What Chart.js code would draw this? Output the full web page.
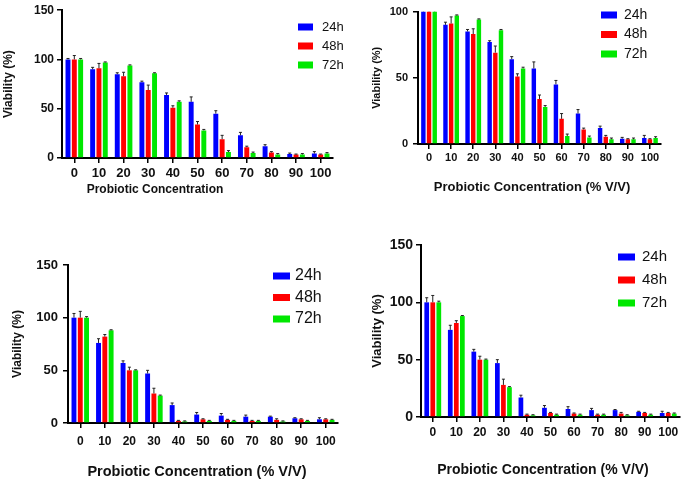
<!DOCTYPE html>
<html>
<head>
<meta charset="utf-8">
<script src="https://cdn.jsdelivr.net/npm/chart.js@4.4.1/dist/chart.umd.min.js"></script>
<style>
  html, body { margin: 0; padding: 0; background: #fff; }
  #page { position: relative; width: 685px; height: 483px; overflow: hidden; }
  .panel { position: absolute; }
</style>
</head>
<body>
<div id="page"></div>
<script>
const categories = ['0', '10', '20', '30', '40', '50', '60', '70', '80', '90', '100'];
const seriesLabels = ['24h', '48h', '72h'];
const seriesColors = ['#0000ff', '#ff0000', '#00e800'];

// top row (same data in both panels)
const top24h = [100, 90, 85, 77, 64, 57, 45, 23, 12, 4, 4.5];
const top48h = [100, 91, 83, 69, 51, 34, 19, 11, 5.5, 3.5, 3.5];
const top72h = [100, 97, 94, 86, 57, 28, 6, 5, 3.5, 3.5, 4.5];
const top24hErr = [1, 2, 1.5, 1, 2, 5, 3, 3, 1.5, 1, 2];
const top48hErr = [4, 5, 4, 5, 2, 3, 4, 1, 1, 0.5, 0.5];
const top72hErr = [1, 0.5, 0.5, 0.5, 1, 1, 1.5, 1, 1, 1, 1];

// bottom row (same data in both panels)
const bottom24h = [100, 76, 57, 47, 17, 8, 7, 6, 6, 4.5, 3.5];
const bottom48h = [100, 82, 50, 28, 2, 3.5, 3, 2, 3, 3.5, 3.5];
const bottom72h = [100, 88, 50, 26, 1.5, 2, 2, 2, 1.5, 2, 3];
const bottom24hErr = [4, 4, 2, 3, 2, 2, 2, 1.5, 0.5, 0.5, 1.5];
const bottom48hErr = [6, 2, 3, 5, 0.5, 0.5, 0.5, 0.5, 1, 0.5, 0.5];
const bottom72hErr = [1, 0.5, 0.5, 0.5, 0.5, 0.5, 0.5, 0.5, 0.5, 0.5, 0.5];

const FONT = '"Liberation Sans", Arial, sans-serif';

const panels = [
    {
        px: 0, py: 0, w: 345, h: 205,
        axisX: 62, topY: 8, bottomY: 158, rightX: 333, ymax: 150,
        yTick: 12, yTickPad: 3, xTick: 13, xLabelY: 173,
        yTitle: 12, yTitleX: 9,
        xTitle: { text: 'Probiotic Concentration', size: 12, x: 155, y: 190 },
        legend: { x: 298, y: 27, gap: 19, boxW: 15, boxH: 7, size: 13, textX: 322 },
        values: [top24h, top48h, top72h], errors: [top24hErr, top48hErr, top72hErr]
    },
    {
        px: 345, py: 0, w: 340, h: 205,
        axisX: 418, topY: 7, bottomY: 144, rightX: 661, ymax: 100,
        yTick: 11, yTickPad: 5, xTick: 11, xLabelY: 158,
        yTitle: 11, yTitleX: 377,
        xTitle: { text: 'Probiotic Concentration (% V/V)', size: 13, x: 532, y: 187 },
        legend: { x: 601, y: 15, gap: 19.5, boxW: 16, boxH: 7, size: 14, textX: 624 },
        values: [top24h, top48h, top72h], errors: [top24hErr, top48hErr, top72hErr]
    },
    {
        px: 0, py: 240, w: 345, h: 243,
        axisX: 68, topY: 265, bottomY: 423, rightX: 338, ymax: 150,
        yTick: 13, yTickPad: 5, xTick: 12, xLabelY: 442,
        yTitle: 12, yTitleX: 18,
        xTitle: { text: 'Probiotic Concentration (% V/V)', size: 14.5, x: 197, y: 472 },
        legend: { x: 273, y: 276, gap: 21.5, boxW: 17, boxH: 7, size: 16, textX: 295 },
        values: [bottom24h, bottom48h, bottom72h], errors: [bottom24hErr, bottom48hErr, bottom72hErr]
    },
    {
        px: 345, py: 230, w: 340, h: 253,
        axisX: 421, topY: 245, bottomY: 417, rightX: 680, ymax: 150,
        yTick: 14, yTickPad: 3, xTick: 12, xLabelY: 433,
        yTitle: 13, yTitleX: 377,
        xTitle: { text: 'Probiotic Concentration (% V/V)', size: 14, x: 543, y: 470 },
        legend: { x: 618, y: 257, gap: 23, boxW: 17, boxH: 7, size: 15, textX: 642 },
        values: [bottom24h, bottom48h, bottom72h], errors: [bottom24hErr, bottom48hErr, bottom72hErr]
    }
];

// whiskers on top of each bar
const errorBars = {
    id: 'errorBars',
    afterDatasetsDraw(chart) {
        const ctx = chart.ctx;
        const yScale = chart.scales.y;
        const area = chart.chartArea;
        ctx.save();
        ctx.beginPath();
        ctx.rect(area.left, area.top, area.right - area.left, area.bottom - area.top);
        ctx.clip();
        ctx.strokeStyle = '#222';
        ctx.lineWidth = 1;
        chart.data.datasets.forEach((ds, i) => {
            const meta = chart.getDatasetMeta(i);
            meta.data.forEach((bar, j) => {
                const top = yScale.getPixelForValue(ds.data[j] + ds.errors[j]);
                ctx.beginPath();
                ctx.moveTo(bar.x, bar.y);
                ctx.lineTo(bar.x, top);
                ctx.moveTo(bar.x - 1.5, top);
                ctx.lineTo(bar.x + 1.5, top);
                ctx.stroke();
            });
        });
        ctx.restore();
    }
};

// legend and x title placed where the original figure has them
const panelText = {
    id: 'panelText',
    afterDraw(chart, args, opts) {
        const ctx = chart.ctx;
        const lg = opts.legend;
        ctx.save();
        chart.data.datasets.forEach((ds, i) => {
            const cy = lg.y + i * lg.gap - opts.py;
            ctx.fillStyle = ds.backgroundColor;
            ctx.fillRect(lg.x - opts.px, cy - lg.boxH / 2, lg.boxW, lg.boxH);
            ctx.fillStyle = '#111';
            ctx.font = lg.size + 'px ' + FONT;
            ctx.textAlign = 'left';
            ctx.textBaseline = 'middle';
            ctx.fillText(ds.label, lg.textX - opts.px, cy);
        });
        const t = opts.xTitle;
        ctx.fillStyle = '#111';
        ctx.font = 'bold ' + t.size + 'px ' + FONT;
        ctx.textAlign = 'center';
        ctx.textBaseline = 'middle';
        ctx.fillText(t.text, t.x - opts.px, t.y - opts.py);
        ctx.restore();
    }
};

const page = document.getElementById('page');

panels.forEach(p => {
    const box = document.createElement('div');
    box.className = 'panel';
    box.style.left = p.px + 'px';
    box.style.top = p.py + 'px';
    box.style.width = p.w + 'px';
    box.style.height = p.h + 'px';
    const canvas = document.createElement('canvas');
    box.appendChild(canvas);
    page.appendChild(box);

    const yLineH = p.yTitle * 1.2;
    const xLineH = p.xTick * 1.2;

    new Chart(canvas, {
        type: 'bar',
        data: {
            labels: categories,
            datasets: seriesLabels.map((label, i) => ({
                label: label,
                data: p.values[i],
                errors: p.errors[i],
                backgroundColor: seriesColors[i],
                borderWidth: 0,
                barPercentage: 0.78,
                categoryPercentage: 0.77
            }))
        },
        options: {
            responsive: true,
            maintainAspectRatio: false,
            animation: false,
            layout: {
                padding: { left: 0, top: p.topY - p.py, right: p.px + p.w - p.rightX, bottom: 0 }
            },
            plugins: {
                legend: { display: false },
                tooltip: { enabled: false },
                panelText: { px: p.px, py: p.py, legend: p.legend, xTitle: p.xTitle }
            },
            scales: {
                x: {
                    grid: { display: true, drawOnChartArea: false, offset: false, color: '#000', lineWidth: 1.5, tickLength: 5 },
                    border: { display: true, color: '#000', width: 2 },
                    ticks: {
                        color: '#111',
                        maxRotation: 0,
                        autoSkip: false,
                        padding: p.xLabelY - p.bottomY - 5 - xLineH / 2,
                        font: { family: FONT, size: p.xTick, weight: 'bold' }
                    },
                    afterFit: scale => { scale.height = p.py + p.h - p.bottomY; }
                },
                y: {
                    min: 0,
                    max: p.ymax,
                    grid: { display: true, drawOnChartArea: false, color: '#000', lineWidth: 1.5, tickLength: 5 },
                    border: { display: true, color: '#000', width: 2 },
                    ticks: {
                        stepSize: 50,
                        color: '#111',
                        padding: p.yTickPad,
                        font: { family: FONT, size: p.yTick, weight: 'bold' }
                    },
                    title: {
                        display: true,
                        text: 'Viability (%)',
                        color: '#111',
                        padding: { top: p.yTitleX - p.px - yLineH / 2, bottom: 0 },
                        font: { family: FONT, size: p.yTitle, weight: 'bold' }
                    },
                    afterFit: scale => { scale.width = p.axisX - p.px; }
                }
            }
        },
        plugins: [errorBars, panelText]
    });
});
</script>
</body>
</html>
